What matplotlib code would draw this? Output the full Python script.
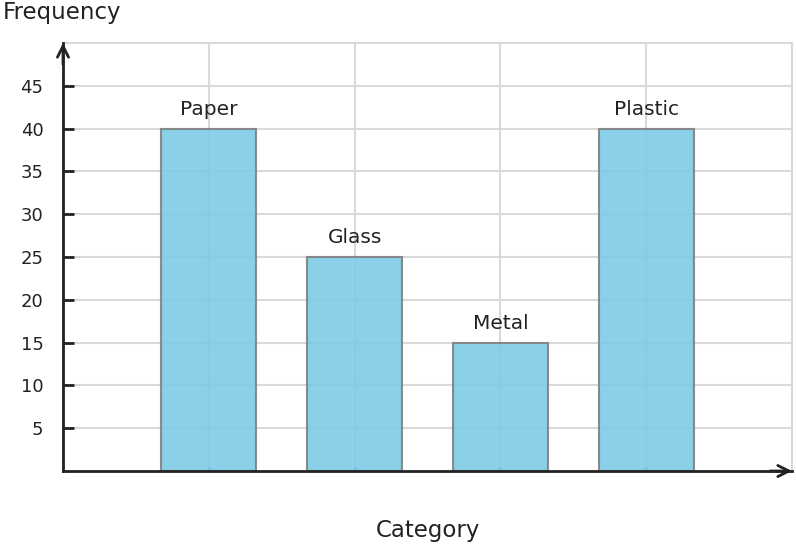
import matplotlib.pyplot as plt
import numpy as np

categories = ["Paper", "Glass", "Metal", "Plastic"]
frequencies = [40, 25, 15, 40]
y_ticks = [5, 10, 15, 20, 25, 30, 35, 40, 45]

fig = plt.figure(figsize=(7.96, 5.48), dpi=100)
ax = fig.add_axes([63 / 796, 77 / 548, 729 / 796, 428 / 548])

x = np.arange(1, len(categories) + 1)
ax.set_xlim(0, 5)
ax.set_ylim(0, 50)

ax.grid(True, color="#d9d9d9", linewidth=1.5)
ax.set_axisbelow(True)

bars = ax.bar(x, frequencies, width=0.65, color="#7ccbe6", alpha=0.9,
              edgecolor="#808080", linewidth=1.5, zorder=3)
for xi, f, name in zip(x, frequencies, categories):
    ax.annotate(name, (xi, f), xytext=(0, 7), textcoords="offset points",
                ha="center", va="bottom", fontsize=14.5, color="#222222")

ax.set_xticks(x)
ax.set_xticklabels([])
ax.set_yticks(y_ticks)
ax.tick_params(axis="y", direction="in", length=8, width=2, color="#222222",
               labelsize=13, labelcolor="#222222", pad=14)
ax.tick_params(axis="x", direction="in", length=3, width=2, color="#4a90b0")

for s in ["top", "right"]:
    ax.spines[s].set_color("#d9d9d9")
    ax.spines[s].set_linewidth(1.5)
for s in ["left", "bottom"]:
    ax.spines[s].set_color("#222222")
    ax.spines[s].set_linewidth(2)
    ax.spines[s].set_zorder(5)

# arrow heads on the two main axes
ax.annotate("", xy=(1.0, 0), xytext=(0.97, 0), xycoords="axes fraction",
            arrowprops=dict(arrowstyle="->", color="#222222", lw=2,
                            mutation_scale=20, shrinkA=0, shrinkB=0))
ax.annotate("", xy=(0, 1.0), xytext=(0, 0.95), xycoords="axes fraction",
            arrowprops=dict(arrowstyle="->", color="#222222", lw=2,
                            mutation_scale=20, shrinkA=0, shrinkB=0))

fig.text(3 / 796, 1 - 12 / 548, "Frequency", fontsize=16.5, color="#222222",
         ha="left", va="center")
fig.text((63 + 792) / 2 / 796, 1 - 531 / 548, "Category", fontsize=16.5,
         color="#222222", ha="center", va="center")

fig.savefig("out.png", dpi=100)
